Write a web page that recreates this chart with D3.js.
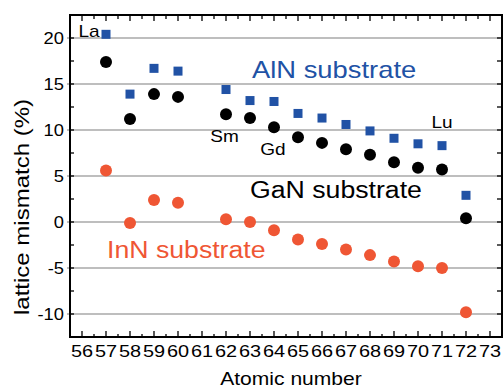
<!DOCTYPE html>
<html>
<head>
<meta charset="utf-8">
<script src="https://cdn.jsdelivr.net/npm/d3@7"></script>
<style>
  body { margin: 0; background: #fff; }
  text { font-family: "Liberation Sans", Arial, sans-serif; }
</style>
</head>
<body>
<div id="chart"></div>
<script>
// data (lattice mismatch in %)
var atomicNumbers = [57, 58, 59, 60, 62, 63, 64, 65, 66, 67, 68, 69, 70, 71, 72];
var alnMismatch = [20.4, 13.9, 16.7, 16.4, 14.4, 13.2, 13.1, 11.8, 11.3, 10.6, 9.9, 9.1, 8.5, 8.3, 2.9];
var ganMismatch = [17.4, 11.2, 13.9, 13.6, 11.7, 11.3, 10.3, 9.2, 8.6, 7.9, 7.3, 6.5, 5.9, 5.7, 0.4];
var innMismatch = [5.6, -0.1, 2.4, 2.1, 0.3, 0.0, -0.9, -1.9, -2.4, -3.0, -3.6, -4.3, -4.8, -5.0, -9.8];
var xTicks = d3.range(56, 74);
var yTicks = [-10, -5, 0, 5, 10, 15, 20];
var elementNames = ["La", "Sm", "Gd", "Lu"];
var elementNumbers = [57, 62, 64, 71];

var width = 504, height = 388;
var margin = { top: 15, right: 2, bottom: 51, left: 70 };

var svg = d3.select("#chart").append("svg")
  .attr("width", width)
  .attr("height", height);

var x = d3.scaleLinear().domain([55.5, 73.5]).range([margin.left, width - margin.right]);
var y = d3.scaleLinear().domain([-12.5, 22.5]).range([height - margin.bottom, margin.top]);

var blue = "#2152a5", orange = "#ef5634";

// text helper - the original font is a bit wider than Liberation Sans
function label(txt, px, py, size, anchor, color, sx, rot) {
  return svg.append("text")
    .attr("transform", "translate(" + px + "," + py + ")" + (rot ? " rotate(" + rot + ")" : "") + " scale(" + sx + ",1)")
    .attr("text-anchor", anchor)
    .style("font-size", size + "px")
    .style("fill", color)
    .text(txt);
}

// grid lines
svg.append("g").selectAll("line")
  .data(yTicks)
  .enter().append("line")
  .attr("x1", x.range()[0] - 3)
  .attr("x2", x.range()[1])
  .attr("y1", d => y(d))
  .attr("y2", d => y(d))
  .style("stroke", "#a8a8a8")
  .style("stroke-width", 1.5);

// ticks on all four sides, pointing inward
var halfX = d3.range(55.5, 73.6, 0.5);
var quarterY = d3.range(-12.5, 22.6, 2.5);
var ticks = svg.append("g").style("stroke", "#000").style("stroke-width", 1.3);
var plotBottom = y.range()[0], plotTop = y.range()[1], plotLeft = x.range()[0], plotRight = x.range()[1];

ticks.selectAll(".xb").data(halfX).enter().append("line")
  .attr("x1", d => x(d)).attr("x2", d => x(d))
  .attr("y1", plotBottom).attr("y2", d => plotBottom - (d % 1 === 0 ? 6 : 3));
ticks.selectAll(".xt").data(halfX).enter().append("line")
  .attr("x1", d => x(d)).attr("x2", d => x(d))
  .attr("y1", plotTop).attr("y2", d => plotTop + (d % 1 === 0 ? 6 : 4));
ticks.selectAll(".yl").data(quarterY).enter().append("line")
  .attr("y1", d => y(d)).attr("y2", d => y(d))
  .attr("x1", plotLeft).attr("x2", plotLeft + 4);
ticks.selectAll(".yr").data(quarterY).enter().append("line")
  .attr("y1", d => y(d)).attr("y2", d => y(d))
  .attr("x1", plotRight).attr("x2", plotRight - 5);

// frame
svg.append("rect")
  .attr("x", plotLeft).attr("y", plotTop)
  .attr("width", plotRight - plotLeft).attr("height", plotBottom - plotTop)
  .style("fill", "none").style("stroke", "#000").style("stroke-width", 2);

// tick labels
xTicks.forEach(function (t) {
  label(t, x(t), plotBottom + 20, 17, "middle", "#000", 1.17);
});
yTicks.forEach(function (t) {
  label(t, plotLeft - 6, y(t) + 6, 17, "end", "#000", 1.08);
});

// axis titles
label("Atomic number", (plotLeft + plotRight) / 2 + 5, 385, 18, "middle", "#000", 1.17);
label("lattice mismatch (%)", 29, (plotTop + plotBottom) / 2 + 31, 20, "middle", "#000", 1.2, -90);

// markers
var pts = svg.append("g");
pts.selectAll(".aln").data(atomicNumbers).enter().append("rect")
  .attr("x", (d) => x(d) - 4.5)
  .attr("y", (d, i) => y(alnMismatch[i]) - 4.5)
  .attr("width", 9).attr("height", 9)
  .style("fill", blue);
pts.selectAll(".gan").data(atomicNumbers).enter().append("circle")
  .attr("cx", d => x(d))
  .attr("cy", (d, i) => y(ganMismatch[i]))
  .attr("r", 6)
  .style("fill", "#000");
pts.selectAll(".inn").data(atomicNumbers).enter().append("circle")
  .attr("cx", d => x(d))
  .attr("cy", (d, i) => y(innMismatch[i]))
  .attr("r", 6)
  .style("fill", orange);

// element names
var nameOffsets = [[-17, 2.5], [-1.5, 28], [-1, 28], [0, -42]];
elementNames.forEach(function (n, i) {
  var z = elementNumbers[i];
  var k = atomicNumbers.indexOf(z);
  var yv = i === 0 ? alnMismatch[k] : ganMismatch[k];
  label(n, x(z) + nameOffsets[i][0], y(yv) + nameOffsets[i][1], 17, "middle", "#000", 1.12);
});

// series labels
label("AlN substrate", 252, 78, 23, "start", blue, 1.19);
label("GaN substrate", 250, 198, 23, "start", "#000", 1.16);
label("InN substrate", 107, 258, 23, "start", orange, 1.16);
</script>
</body>
</html>
